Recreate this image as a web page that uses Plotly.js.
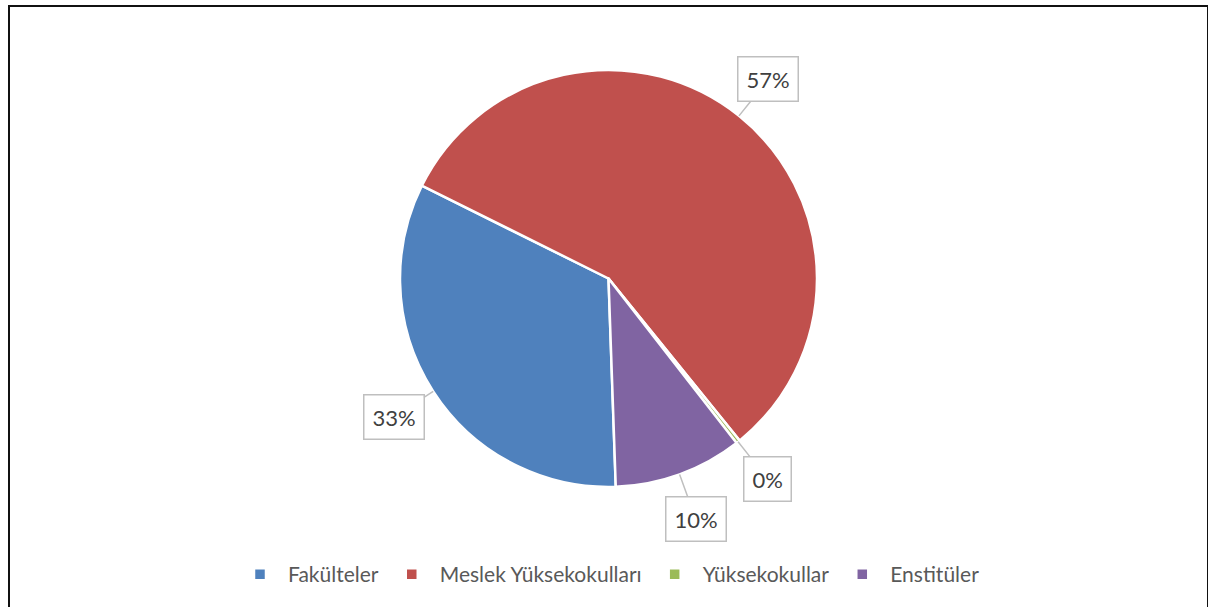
<!DOCTYPE html>
<html>
<head>
<meta charset="utf-8">
<script src="https://cdn.plot.ly/plotly-3.0.1.min.js"></script>
<style>
  html, body { margin: 0; padding: 0; background: #fff; }
  #chart { position: absolute; left: 0; top: 0; width: 1208px; height: 607px; }
  #frame { position: absolute; left: 8px; top: 5px; width: 1197px; height: 640px;
           border: 2px solid #111; pointer-events: none; }
</style>
</head>
<body>
<div id="chart"></div>
<div id="frame"></div>
<script>
const categories = ["Fakülteler", "Meslek Yüksekokulları", "Yüksekokullar", "Enstitüler"];
const values = [33, 57, 0.3, 10];
const colors = ["#4F81BD", "#C0504D", "#9BBB59", "#8064A2"];

const W = 1208, H = 607;
const margin = { l: 109, r: 100, t: 70, b: 120 };
const plotW = W - margin.l - margin.r;
const plotH = H - margin.t - margin.b;
const rotation = 178;

// Callout labels placed from slice mid-angles
const total = values.reduce((a, b) => a + b, 0);
const R = Math.min(plotW, plotH) / 2;
const annotations = [];
let cum = 0;
values.forEach((v, i) => {
  const frac = v / total;
  const mid = (rotation + (cum + frac / 2) * 360) * Math.PI / 180;
  cum += frac;
  const ex = Math.sin(mid), ey = -Math.cos(mid);
  const dist = 47;
  annotations.push({
    xref: "paper", yref: "paper",
    x: 0.5 + ex * R / plotW,
    y: 0.5 - ey * R / plotH,
    ax: ex * dist, ay: ey * dist,
    text: Math.round(frac * 100) + "%",
    showarrow: true, arrowhead: 0, arrowwidth: 1.5, arrowcolor: "#BFBFBF",
    bgcolor: "#FFFFFF", bordercolor: "#BFBFBF", borderwidth: 1.5, borderpad: 8,
    font: { family: "Lato, 'Liberation Sans', sans-serif", size: 22, color: "#404040" }
  });
});

const data = [{
  type: "pie",
  labels: categories,
  values: values,
  marker: { colors: colors, line: { color: "#FFFFFF", width: 2.5 } },
  sort: false,
  direction: "clockwise",
  rotation: rotation,
  textinfo: "none",
  hoverinfo: "none"
}];

const layout = {
  width: W, height: H,
  margin: margin,
  paper_bgcolor: "#FFFFFF",
  showlegend: true,
  legend: {
    orientation: "h", x: 0.5, xanchor: "center", y: -0.21, yanchor: "middle",
    itemwidth: 46,
    font: { family: "Lato, 'Liberation Sans', sans-serif", size: 21, color: "#595959" },
    itemclick: false
  },
  annotations: annotations
};

Plotly.newPlot("chart", data, layout, { displayModeBar: false, staticPlot: true });
</script>
</body>
</html>
